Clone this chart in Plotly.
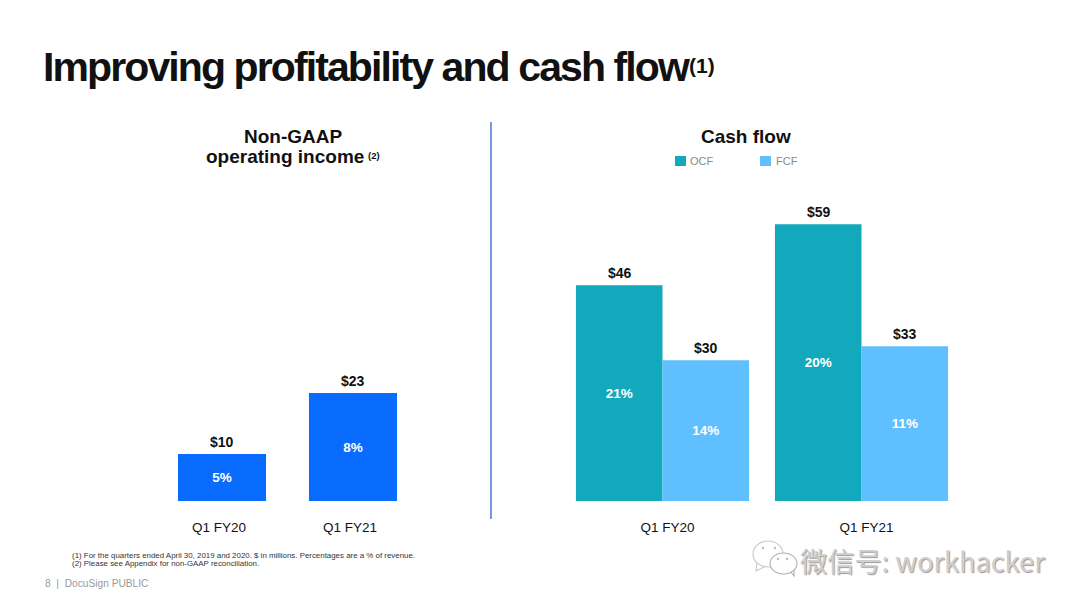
import plotly.graph_objects as go

W, H = 1080, 608
quarters = ["Q1 FY20", "Q1 FY21"]
income_values = [10, 23]
income_labels = ["$10", "$23"]
income_pct = ["5%", "8%"]
ocf_values = [46, 59]
ocf_labels = ["$46", "$59"]
ocf_pct = ["21%", "20%"]
fcf_values = [30, 33]
fcf_labels = ["$30", "$33"]
fcf_pct = ["14%", "11%"]

BLUE, TEAL, SKY = "#0A6BFF", "#13A9BC", "#5FBFFF"
FONT = "Liberation Sans"
INK = "#111111"

def px(x): return x / W
def py(y): return 1 - y / H

fig = go.Figure()
pct_font = dict(color="white", size=13.5, family=FONT, weight="bold")
fig.add_bar(x=[0, 1], y=income_values, text=income_pct, width=0.672, marker=dict(color=BLUE, line_width=0),
            xaxis="x", yaxis="y", showlegend=False, textposition="inside", insidetextanchor="middle",
            textangle=0, constraintext="none", textfont=pct_font)
fig.add_bar(x=[0, 1], y=ocf_values, text=ocf_pct, name="OCF", width=0.435, offset=-0.435, showlegend=False,
            marker=dict(color=TEAL, line_width=0), xaxis="x2", yaxis="y2", textposition="inside",
            insidetextanchor="middle", textangle=0, constraintext="none", textfont=pct_font)
fig.add_bar(x=[0, 1], y=fcf_values, text=fcf_pct, name="FCF", width=0.435, offset=0, showlegend=False,
            marker=dict(color=SKY, line_width=0), xaxis="x2", yaxis="y2", textposition="inside",
            insidetextanchor="middle", textangle=0, constraintext="none", textfont=pct_font)

ann = []
def value_label(x, y, txt, xref, yref, xshift=0):
    ann.append(dict(x=x, y=y, xref=xref, yref=yref, text=f"<b>{txt}</b>", showarrow=False, yanchor="bottom",
                    yshift=2, xshift=xshift, font=dict(size=14, color=INK, family=FONT)))
for i in range(2):
    value_label(i, income_values[i], income_labels[i], "x", "y")
    value_label(i - 0.2175, ocf_values[i], ocf_labels[i], "x2", "y2", 0.5)
    value_label(i + 0.2175, fcf_values[i], fcf_labels[i], "x2", "y2", 0.5)

def text(x, y, t, size, color=INK, anchor="left", family=FONT, **kw):
    ann.append(dict(x=px(x), y=py(y), xref="paper", yref="paper", text=t, showarrow=False, xanchor=anchor,
                    yanchor="middle", align=anchor, font=dict(size=size, color=color, family=family, **kw)))

text(41, 67, "<b>Improving profitability and cash flow</b>", 41)
text(687, 66, "<b>(1)</b>", 21)
text(293, 136, "<b>Non-GAAP</b>", 19, anchor="center")
text(285, 156.5, "<b>operating income</b>", 19, anchor="center")
text(374, 156, "<b>(2)</b>", 9.5, anchor="center")
text(746, 137, "<b>Cash flow</b>", 19, anchor="center")
text(688, 161, "OCF", 11, color="#8A8A8A")
text(774, 161, "FCF", 11, color="#8A8A8A")
text(70, 555, "(1) For the quarters ended April 30, 2019 and 2020. $ in millions. Percentages are a % of revenue.", 7.9, color="#333333")
text(70, 563, "(2) Please see Appendix for non-GAAP reconciliation.", 7.9, color="#333333")
text(43, 583, "8  |  DocuSign PUBLIC", 10.2, color="#9A9A9A")
text(798, 560, "微信号: workhacker", 27.2, color="#CFCFCF", family="Noto Sans CJK SC",
     shadow="1px 1px 1px #999999")

def box(x0, y0, x1, y1, **kw):
    return dict(xref="paper", yref="paper", x0=px(x0), x1=px(x1), y0=py(y1), y1=py(y0), **kw)
def tail(pts, color):
    d = "M " + " L ".join(f"{px(a)} {py(b)}" for a, b in pts) + " Z"
    return dict(type="path", xref="paper", yref="paper", path=d, fillcolor="white", line=dict(color=color, width=1.1))

shapes = [
    dict(type="line", xref="paper", yref="paper", x0=px(491), x1=px(491), y0=py(122), y1=py(519),
         line=dict(color="#2F62D0", width=1.3)),
    box(675, 156, 686, 166, type="rect", fillcolor=TEAL, line_width=0),
    box(760, 156, 771, 166, type="rect", fillcolor=SKY, line_width=0),
    tail([(757, 562), (756, 571), (766, 566)], "#C8C8C8"),
    box(753, 541, 783, 567, type="circle", line=dict(color="#C8C8C8", width=1.1), fillcolor="white"),
    tail([(789, 570), (794, 576), (794, 566)], "#B0B0B0"),
    box(770, 553, 797, 574, type="circle", line=dict(color="#B0B0B0", width=1.1), fillcolor="white"),
]
for ex, ey in [(763, 548), (775, 548), (778, 559), (787, 559)]:
    shapes.append(box(ex - 1.2, ey - 1.2, ex + 1.2, ey + 1.2, type="circle", line_width=0, fillcolor="#BBBBBB"))

axis_common = dict(showgrid=False, zeroline=False, showline=False, ticks="")
tick_font = dict(size=13.5, color=INK, family=FONT)
fig.update_layout(
    width=W, height=H, margin=dict(l=0, r=0, t=0, b=0), paper_bgcolor="white", plot_bgcolor="white",
    barmode="overlay", font=dict(family=FONT), showlegend=False,
    xaxis=dict(domain=[px(156.5), px(418.5)], range=[-0.5, 1.5], tickvals=[0, 1], ticktext=quarters,
               tickfont=tick_font, ticklabelstandoff=16, ticklabelshift=-3, **axis_common),
    xaxis2=dict(domain=[px(563), px(961)], range=[-0.5, 1.5], tickvals=[0, 1], ticktext=quarters,
                tickfont=tick_font, ticklabelstandoff=16, ticklabelshift=5, anchor="y2", **axis_common),
    yaxis=dict(domain=[py(501), py(120)], range=[0, 81.2], visible=False),
    yaxis2=dict(domain=[py(501), py(120)], range=[0, 81.2], visible=False, anchor="x2"),
    annotations=ann, shapes=shapes,
)
post = """
document.body.style.margin='0';
document.querySelectorAll('.annotation-text').forEach(function (t) {
  if (t.textContent.indexOf('Improving') === 0) { t.style.letterSpacing = '-1.9px'; }
});
"""
fig.write_html("out.html", config=dict(displayModeBar=False), post_script=post)
